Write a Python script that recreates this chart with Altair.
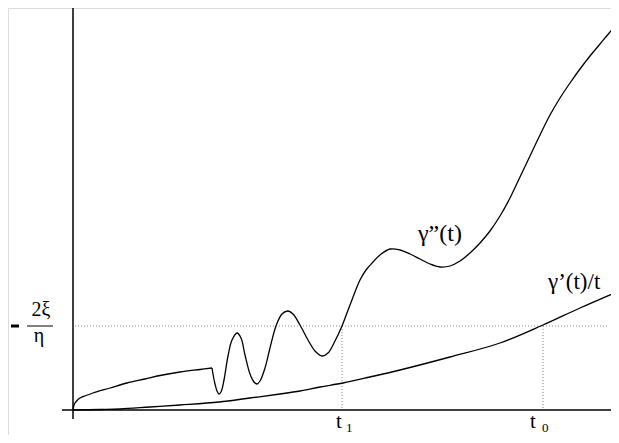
import altair as alt
import pandas as pd

# gamma''(t): part before the corner, then the oscillating part (t, value)
g2a_t = [0.00, 0.01, 0.02, 0.04, 0.07, 0.13, 0.20, 0.37, 0.54, 0.72, 0.87, 1.07, 1.27, 1.39]
g2a_v = [0.00, 0.05, 0.07, 0.095, 0.12, 0.145, 0.17, 0.22, 0.27, 0.31, 0.345, 0.38, 0.405, 0.42]

g2b_t = [1.39, 1.40, 1.42, 1.44, 1.46, 1.48, 1.51, 1.55, 1.59, 1.64, 1.68, 1.72, 1.77, 1.81,
         1.84, 1.87, 1.92, 1.97, 2.03, 2.09, 2.15, 2.20, 2.27, 2.35, 2.42, 2.49, 2.55, 2.62,
         2.69, 2.77, 2.87, 2.93, 3.00, 3.07, 3.17, 3.27, 3.37, 3.47, 3.57, 3.67, 3.77, 3.87,
         3.97, 4.07, 4.17, 4.27, 4.37, 4.47, 4.57, 4.67, 4.77, 4.87, 4.97, 5.07, 5.17, 5.27,
         5.37, 5.45]
g2b_v = [0.42, 0.36, 0.26, 0.19, 0.16, 0.18, 0.30, 0.54, 0.70, 0.77, 0.72, 0.55, 0.36, 0.28,
         0.26, 0.29, 0.42, 0.62, 0.84, 0.96, 0.99, 0.96, 0.85, 0.70, 0.59, 0.54, 0.57, 0.69,
         0.84, 1.05, 1.30, 1.40, 1.48, 1.55, 1.61, 1.60, 1.56, 1.51, 1.46, 1.43, 1.44, 1.49,
         1.57, 1.67, 1.79, 1.94, 2.12, 2.33, 2.54, 2.75, 2.95, 3.12, 3.27, 3.41, 3.54, 3.66,
         3.78, 3.87]

# gamma'(t)/t curve
g1_t = [0.00, 0.27, 0.47, 0.77, 1.07, 1.46, 1.77, 2.07, 2.27, 2.47, 2.70, 2.97, 3.27,
        3.77, 4.27, 4.70, 5.07, 5.46]
g1_v = [0.00, 0.005, 0.01, 0.03, 0.05, 0.08, 0.12, 0.16, 0.19, 0.23, 0.27, 0.33, 0.40,
        0.53, 0.67, 0.85, 1.02, 1.19]

level = 0.84      # -2xi/eta
t1 = 2.69
t0 = 4.70
x_end = 5.46
y_top = 4.06

FONT = "Liberation Serif, Times New Roman, DejaVu Serif, serif"

xs = alt.Scale(domain=[-0.65, 5.38], nice=False, zero=False)
ys = alt.Scale(domain=[-0.25, 4.02], nice=False, zero=False)
X = lambda f: alt.X(f, type="quantitative", scale=xs, axis=None)
Y = lambda f: alt.Y(f, type="quantitative", scale=ys, axis=None)

g2 = pd.concat([
    pd.DataFrame({"t": g2a_t, "v": g2a_v, "seg": "a"}),
    pd.DataFrame({"t": g2b_t, "v": g2b_v, "seg": "b"}),
])
g1 = pd.DataFrame({"t": g1_t, "v": g1_v})

line2 = alt.Chart(g2).mark_line(color="black", strokeWidth=1.3, interpolate="catmull-rom").encode(
    x=X("t"), y=Y("v"), detail="seg:N", order="t:Q")
line1 = alt.Chart(g1).mark_line(color="black", strokeWidth=1.3, interpolate="catmull-rom").encode(
    x=X("t"), y=Y("v"), order="t:Q")

# axis lines
axes_df = pd.DataFrame({"x": [-0.11, 0.0], "x2": [x_end, 0.0],
                        "y": [0.0, -0.09], "y2": [0.0, y_top]})
axes = alt.Chart(axes_df).mark_rule(color="black", strokeWidth=1.5).encode(
    x=X("x"), x2="x2", y=Y("y"), y2="y2")

# dotted guides
dots_df = pd.DataFrame({"x": [0.02, t1, t0], "x2": [5.36, t1, t0],
                        "y": [level, level, level], "y2": [level, 0.0, 0.0]})
dots = alt.Chart(dots_df).mark_rule(color="#888888", strokeWidth=1, strokeDash=[1, 2]).encode(
    x=X("x"), x2="x2", y=Y("y"), y2="y2")

def txt(label, x, y, size, align="left", dx=0, dy=0):
    return alt.Chart(pd.DataFrame({"x": [x], "y": [y], "s": [label]})).mark_text(
        font=FONT, fontSize=size, align=align, baseline="alphabetic", color="black",
        dx=dx, dy=dy).encode(x=X("x"), y=Y("y"), text="s:N")

labels = [
    txt("γ”(t)", 3.45, 1.69, 24),
    txt("γ’(t)/t", 4.75, 1.21, 23),
    txt("t", t1, -0.18, 21, dx=-6),
    txt("1", t1, -0.22, 13, dx=4),
    txt("t", t0, -0.18, 21, dx=-13),
    txt("0", t0, -0.22, 13, dx=-1),
    txt("2ξ", -0.32, 0.94, 20, align="center"),
    txt("η", -0.34, 0.68, 20, align="center"),
]

frac_df = pd.DataFrame({"x": [-0.46], "x2": [-0.20], "y": [level]})
frac = alt.Chart(frac_df).mark_rule(color="black", strokeWidth=1).encode(
    x=X("x"), x2="x2", y=Y("y"))
dash_df = pd.DataFrame({"x": [-0.62], "x2": [-0.54], "y": [level]})
dash = alt.Chart(dash_df).mark_rule(color="black", strokeWidth=3, strokeCap="butt").encode(
    x=X("x"), x2="x2", y=Y("y"))

chart = alt.layer(dots, axes, line1, line2, frac, dash, *labels).properties(
    width=603, height=427, padding=0, autosize=alt.AutoSizeParams(type="none")
).configure_view(stroke=None).configure(background="white")

chart.save("out.html", embed_options={"renderer": "svg", "actions": False})
